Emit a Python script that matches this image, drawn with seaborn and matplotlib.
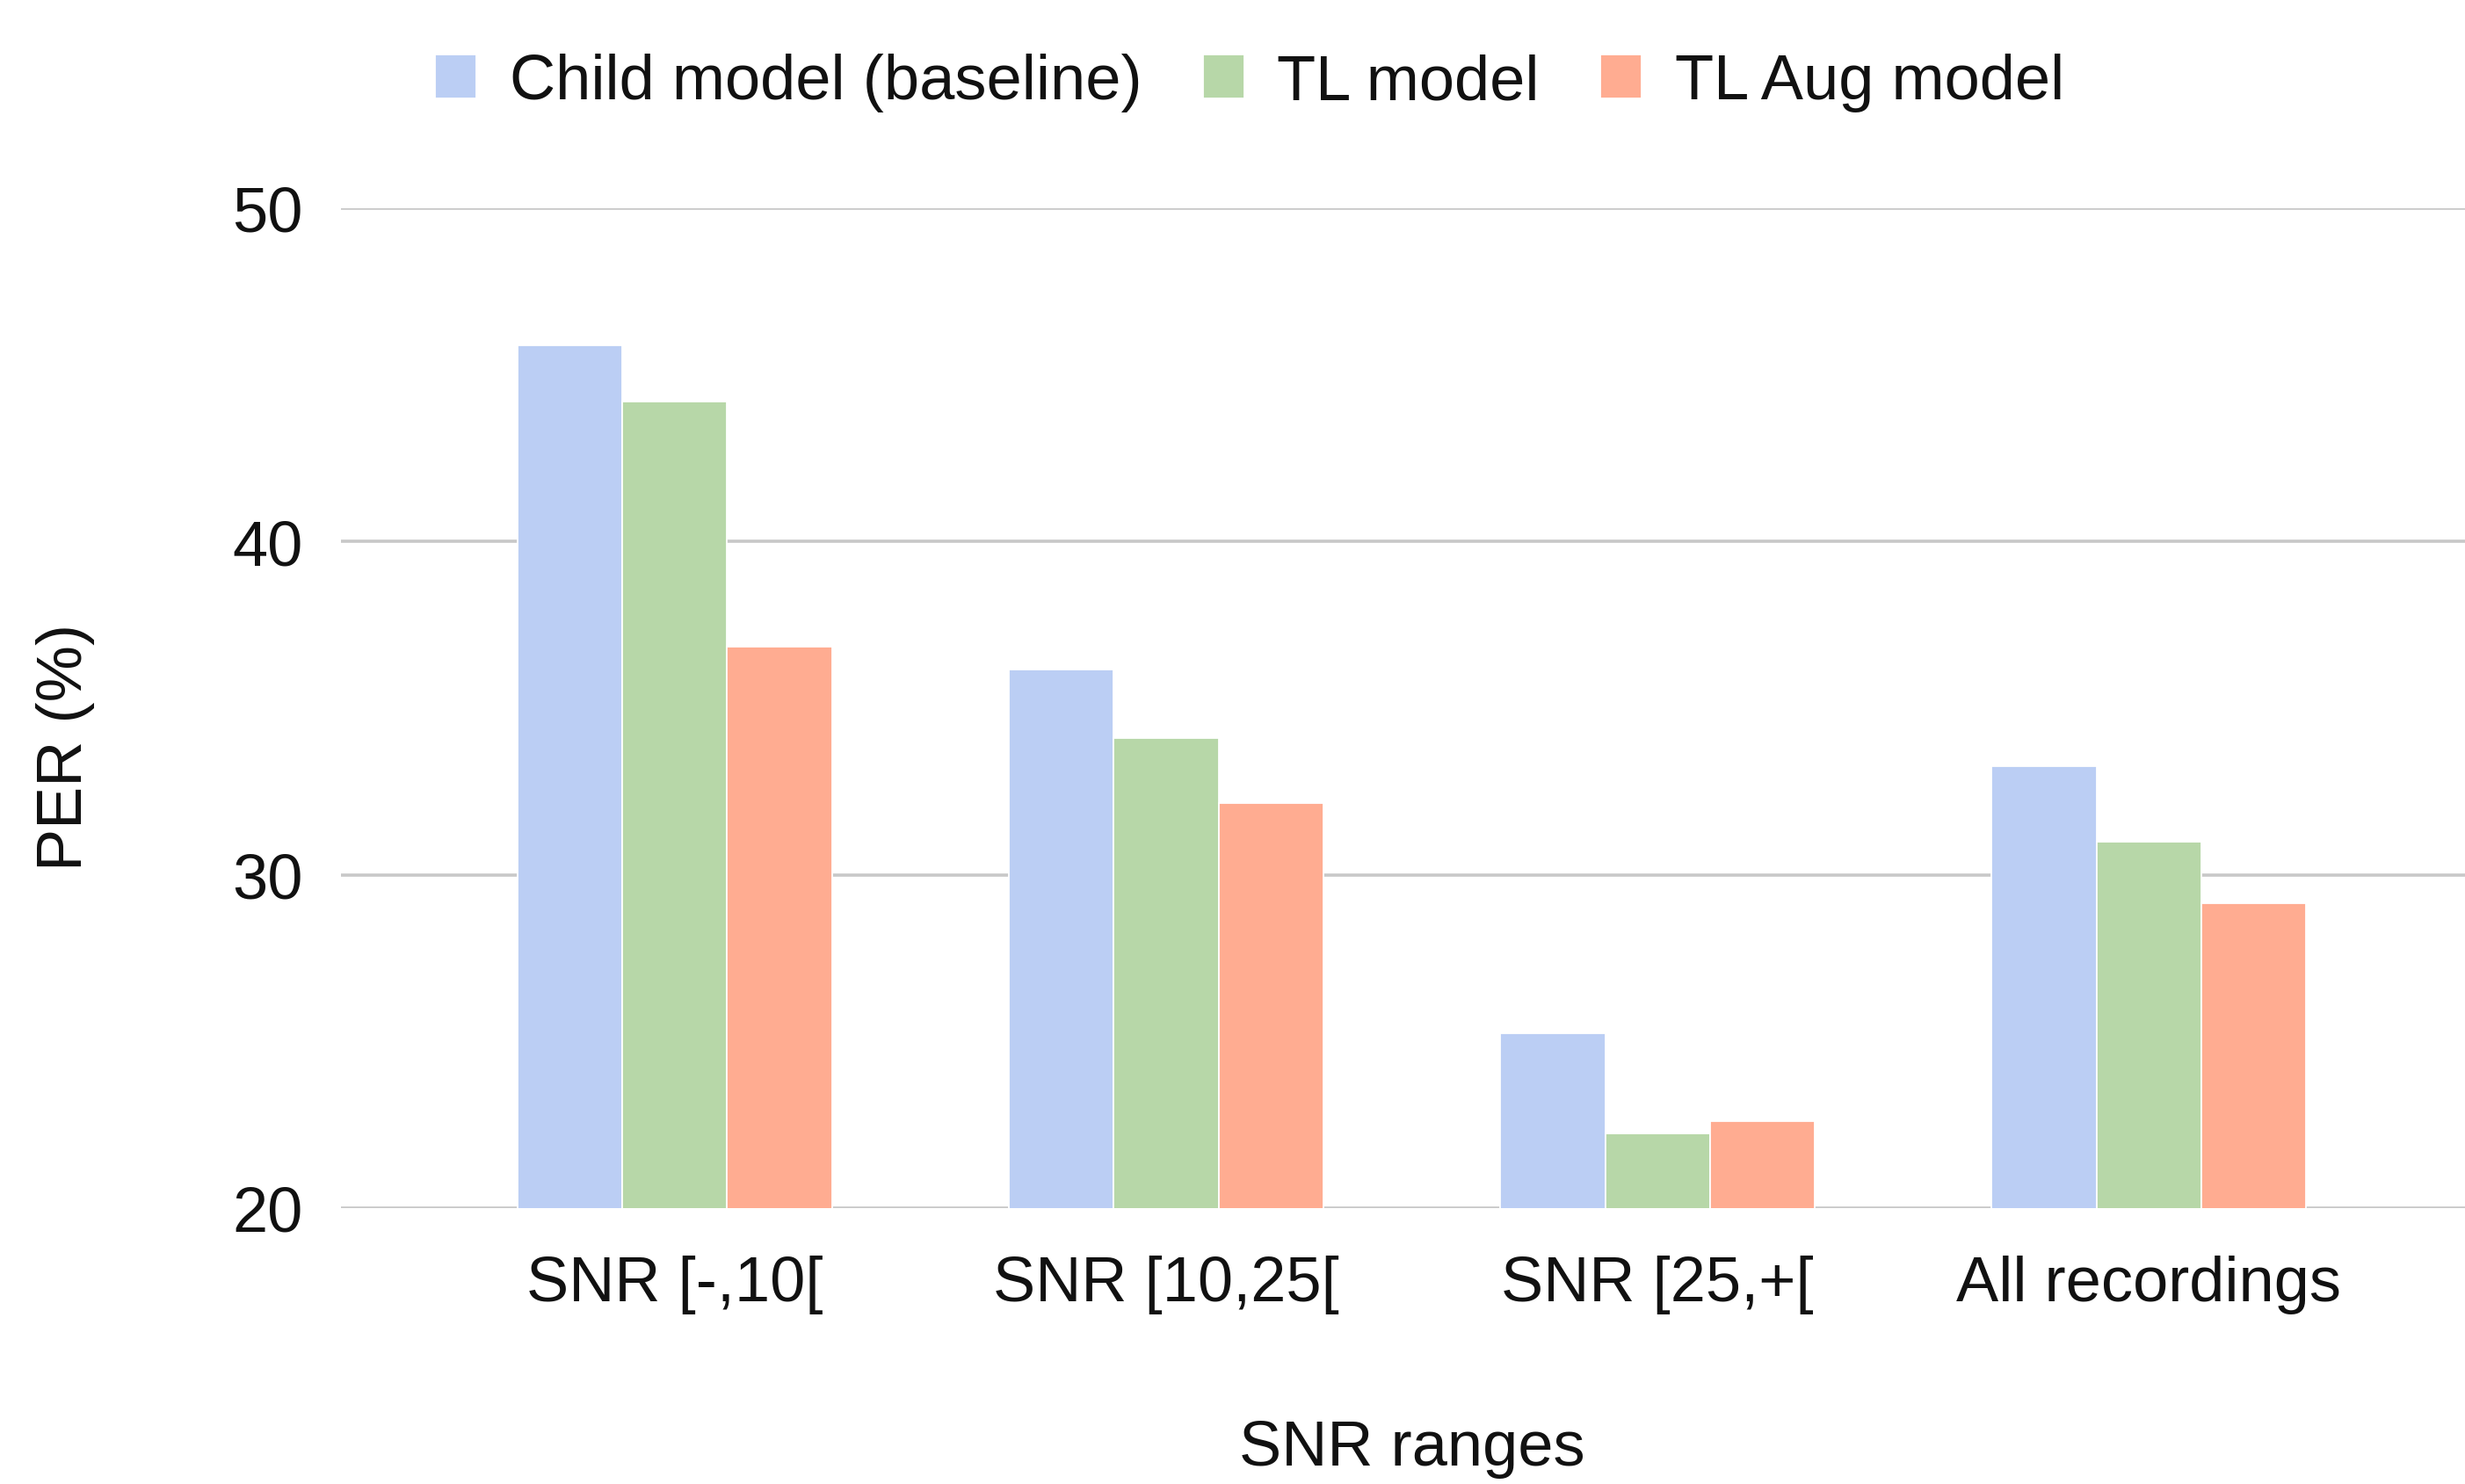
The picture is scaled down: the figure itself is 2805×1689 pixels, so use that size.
import matplotlib
matplotlib.use("Agg")
import matplotlib.pyplot as plt
import seaborn as sns
import pandas as pd

categories = ["SNR [-,10[", "SNR [10,25[", "SNR [25,+[", "All recordings"]
series_names = ["Child model (baseline)", "TL model", "TL Aug model"]
child_vals = [45.9, 36.15, 25.25, 33.25]
tl_vals = [44.2, 34.1, 22.25, 31.0]
tlaug_vals = [36.85, 32.15, 22.6, 29.15]
colors = ["#BBCEF4", "#B7D7A8", "#FFAC91"]
y_ticks = [20, 30, 40, 50]

sns.set_theme(style="white")
plt.rcParams['font.family'] = ['Liberation Sans', 'DejaVu Sans']

rows = []
for name, vals in zip(series_names, [child_vals, tl_vals, tlaug_vals]):
    for c, v in zip(categories, vals):
        rows.append({"category": c, "series": name, "value": v})
df = pd.DataFrame(rows)

fig = plt.figure(figsize=(28.05, 16.90), dpi=100)
ax = fig.add_axes([388/2805, 1 - 1376/1690, 1 - 388/2805, (1376 - 238)/1690])

sns.barplot(data=df, x="category", y="value", hue="series", order=categories,
            hue_order=series_names, palette=colors, width=0.64, saturation=1,
            edgecolor="white", linewidth=1.3, ax=ax, zorder=3)

ax.set_ylim(20, 50)
ax.set_xlim(-0.679, 3.643)
ax.set_yticks(y_ticks)
ax.set_yticklabels([str(t) for t in y_ticks])
ax.yaxis.grid(True, color="#C8C8C8", linewidth=2.6, zorder=0)
ax.set_axisbelow(True)
for s in ax.spines.values():
    s.set_visible(False)
ax.tick_params(axis='y', length=0, pad=31, labelsize=52, labelcolor="#111111")
ax.tick_params(axis='x', length=0, pad=38, labelsize=52, labelcolor="#111111")
ax.set_xlabel("")
ax.set_ylabel("")

handles, labels = ax.get_legend_handles_labels()
ax.get_legend().remove()
fig.legend(handles, labels, loc="center", bbox_to_anchor=(0.507, 0.944), ncol=3,
           frameon=False, fontsize=52, handlelength=0.65, handleheight=0.7,
           handletextpad=0.52, columnspacing=0.96, labelcolor="#111111")

fig.text(0.0267, 0.497, "PER (%)", rotation=90, ha="center", va="center",
         fontsize=52, color="#111111")
fig.text(0.573, 0.004, "SNR ranges", ha="center", va="bottom", fontsize=52,
         color="#111111")

fig.savefig("out.png", dpi=100)
